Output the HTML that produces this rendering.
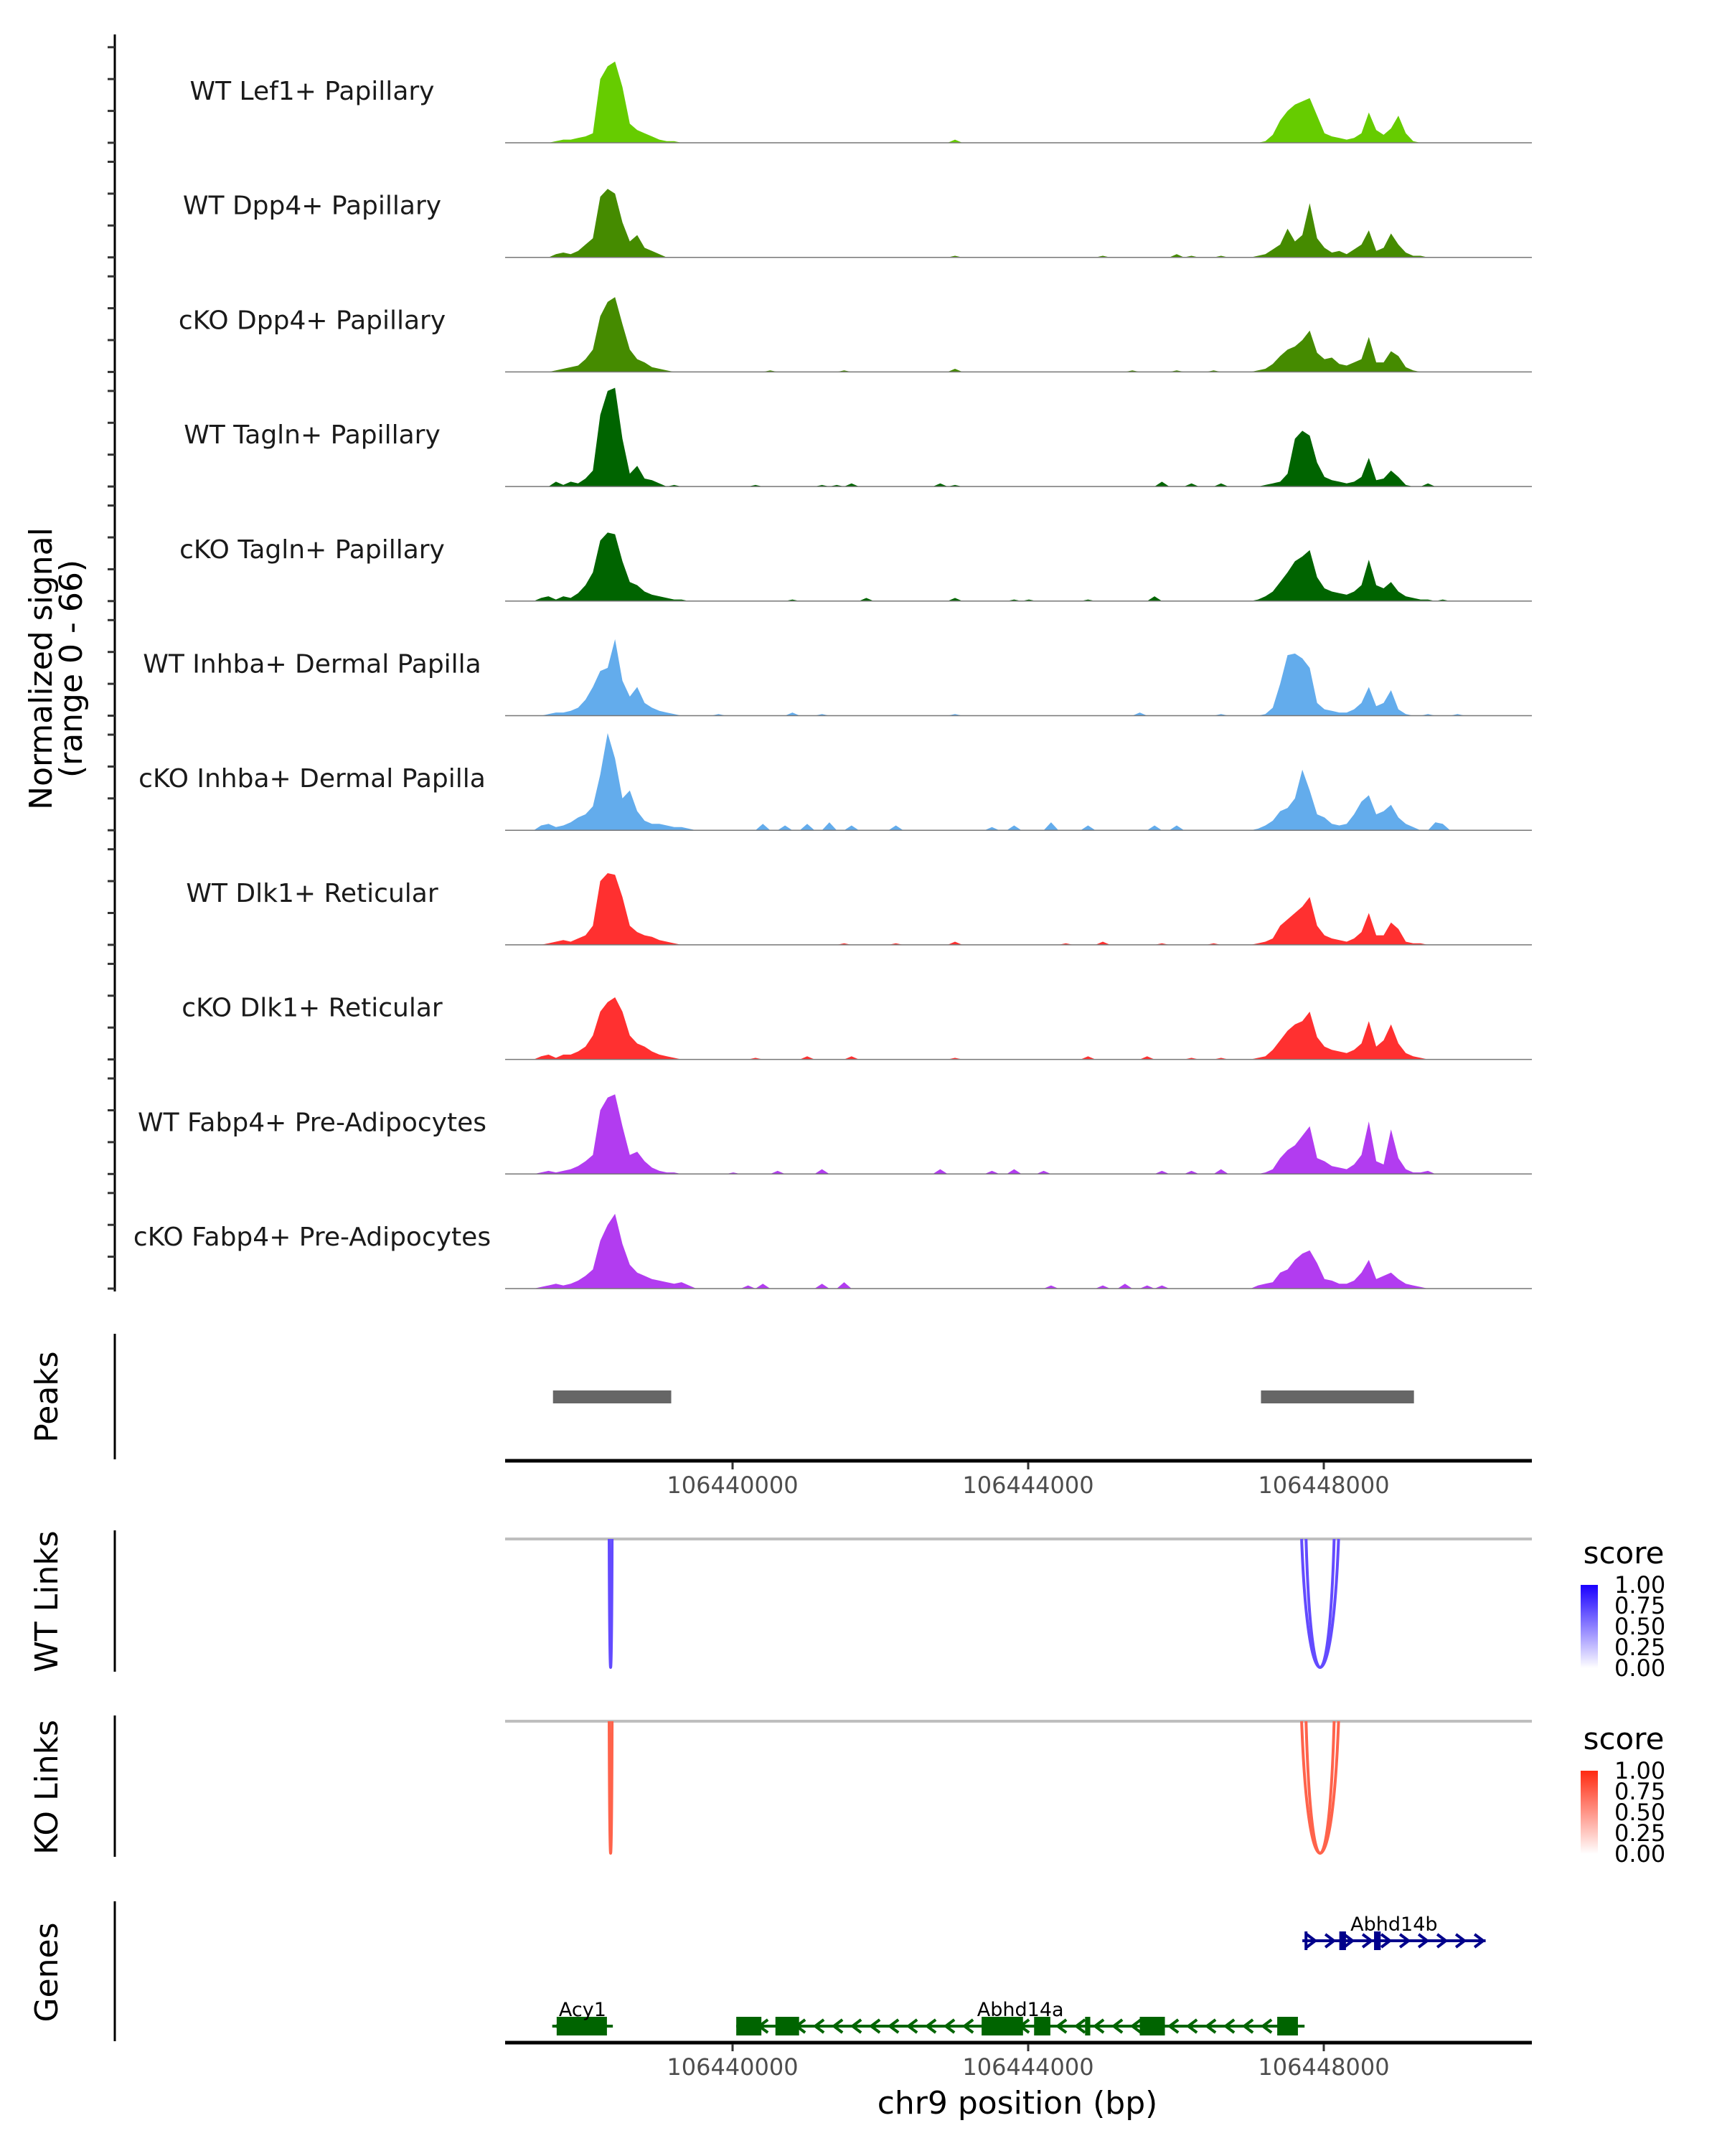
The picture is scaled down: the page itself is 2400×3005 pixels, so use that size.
<!DOCTYPE html>
<html><head><meta charset="utf-8"><style>
html,body{margin:0;padding:0;background:#fff;}
svg text{font-family:"DejaVu Sans","Liberation Sans",sans-serif;}
</style></head><body>
<svg id="chart" xmlns="http://www.w3.org/2000/svg" width="2400" height="3000" viewBox="0 0 2400 3000">
<rect width="2400" height="3000" fill="#fff"/>
</svg>
<script>
// ---- data ----
const regionStartBp = 106436922, regionEndBp = 106450816;
const xTicks = [106440000, 106444000, 106448000];
const binStart = 106436960, binSize = 100;
const trackNames = ["WT Lef1+ Papillary","WT Dpp4+ Papillary","cKO Dpp4+ Papillary","WT Tagln+ Papillary","cKO Tagln+ Papillary","WT Inhba+ Dermal Papilla","cKO Inhba+ Dermal Papilla","WT Dlk1+ Reticular","cKO Dlk1+ Reticular","WT Fabp4+ Pre-Adipocytes","cKO Fabp4+ Pre-Adipocytes"];
const trackColors = ["#66cc00","#458b00","#458b00","#006400","#006400","#63acec","#63acec","#ff3030","#ff3030","#b23cf0","#b23cf0"];
const regionAStartBin = 4;
const regionA = [
[0,0,1,2,2,3,4,6,40,48,51,35,12,8,6,4,2,1,1,0,0],
[0,0,2,3,2,4,8,12,38,43,40,22,10,14,6,4,2,0,0,0,0],
[0,0,1,2,3,4,8,14,35,44,47,30,14,8,6,3,2,1,0,0,0],
[0,0,3,1,3,2,5,10,45,60,62,30,8,13,5,4,2,0,1,0,0],
[2,3,1,3,2,5,10,18,38,43,42,25,12,10,6,4,3,2,1,1,0],
[0,1,2,2,3,5,10,18,28,30,48,22,12,18,8,5,3,2,1,0,0],
[3,4,2,3,5,8,10,15,35,61,45,20,25,12,6,4,4,3,2,2,1],
[0,1,2,3,2,4,6,12,40,45,44,30,12,8,6,5,3,2,1,0,0],
[2,3,1,3,3,5,8,15,30,36,39,30,15,10,8,5,3,2,1,0,0],
[1,2,1,2,3,5,8,12,40,48,50,30,12,14,8,4,2,1,1,0,0],
[1,2,3,2,3,5,8,12,30,40,47,28,15,10,8,6,5,4,3,4,2]];
const regionBStartBin = 100;
const regionB = [
[0,0,1,5,14,20,24,26,28,17,6,4,3,2,3,6,19,8,5,9,17,6,1,0,0,0],
[0,1,2,5,8,18,10,14,34,12,6,3,4,2,5,8,17,4,6,15,8,3,1,1,0,0],
[0,1,2,5,10,14,16,20,26,12,8,9,5,4,6,8,22,6,6,13,10,3,1,0,0,0],
[0,0,1,2,3,8,30,35,32,15,6,4,3,2,3,6,18,4,5,10,6,1,0,0,2,0],
[0,1,3,6,12,18,25,28,32,15,8,6,5,4,6,10,26,10,8,12,6,3,2,1,1,0],
[0,0,1,5,20,38,39,36,30,8,4,3,2,2,4,8,18,6,8,16,4,1,0,0,1,0],
[0,1,3,6,12,14,20,38,25,10,8,4,3,4,10,18,22,10,12,16,8,4,2,0,0,5],
[0,1,2,4,12,16,20,24,30,12,6,4,3,2,4,8,20,6,6,14,10,2,1,1,0,0],
[0,1,2,6,12,18,22,24,30,14,8,6,5,4,6,10,24,8,12,22,10,4,2,1,0,0],
[0,0,1,3,10,15,18,24,30,10,8,5,4,3,6,12,33,8,6,28,10,3,1,1,2,0],
[0,2,3,4,10,12,18,22,24,16,6,5,3,3,5,10,18,6,8,10,6,3,2,1,0,0]];
const noiseBins = [
[[60,2]],
[[60,1],[80,1],[90,2],[92,1],[96,1]],
[[35,1],[45,1],[60,2],[84,1],[90,1],[95,1]],
[[33,1],[42,1],[44,1],[46,2],[58,2],[60,1],[88,3],[92,2],[96,2]],
[[38,1],[48,2],[60,2],[68,1],[70,1],[78,1],[87,3],[126,1]],
[[28,1],[38,2],[42,1],[60,1],[85,2],[96,1],[128,1]],
[[34,4],[37,3],[40,4],[43,5],[46,3],[52,3],[65,2],[68,3],[73,5],[78,3],[87,3],[90,3],[126,4]],
[[45,1],[52,1],[60,2],[75,1],[80,2],[88,1],[95,1]],
[[33,1],[40,2],[46,2],[60,1],[78,2],[86,2],[92,1],[96,1]],
[[30,1],[36,2],[42,3],[58,3],[65,2],[68,3],[72,2],[88,2],[92,2],[96,3]],
[[32,2],[34,3],[42,3],[45,4],[73,2],[80,2],[83,3],[86,2],[88,2]]];
const yTickValues = [0,20,40,60];
const yMax = 66;
const peakStarts = [106437570, 106447150];
const peakEnds = [106439170, 106449220];
const wtLinkStarts = [106438330, 106447700, 106447760];
const wtLinkEnds = [106438370, 106448200, 106448140];
const wtLinkScores = [0.8, 0.8, 0.8];
const koLinkStarts = [106438330, 106447700, 106447760];
const koLinkEnds = [106438370, 106448200, 106448140];
const koLinkScores = [0.8, 0.8, 0.8];
const legendTicks = ["1.00","0.75","0.50","0.25","0.00"];
const geneNames = ["Acy1","Abhd14a","Abhd14b"];
const geneStarts = [106437560, 106440050, 106447710];
const geneEnds = [106438380, 106447740, 106450190];
const geneStrands = [-1, -1, 1];
const geneRows = [1, 1, 0];
const geneColors = ["#006400","#006400","#00008b"];
const geneExons = [
[[106437620,106438300]],
[[106440050,106440390],[106440580,106440900],[106443370,106443930],[106444080,106444300],[106444770,106444840],[106445510,106445850],[106447370,106447650]],
[[106447740,106447760],[106448210,106448300],[106448680,106448770]]];

// ---- layout ----
const X0 = 704, X1 = 2135;
const ppb = (1845-1021)/8000;
function xs(bp){ return 1021 + (bp - 106440000)*ppb; }
const base0 = 199, trackStep = 159.7, pxPerUnit = 2.22;
function ys(k, v){ return base0 + k*trackStep - v*pxPerUnit; }

const svg = document.getElementById('chart');
const NS = "http://www.w3.org/2000/svg";
function mk(tag, attrs, parent){
  const e = document.createElementNS(NS, tag);
  for (const k in attrs) e.setAttribute(k, attrs[k]);
  (parent||svg).appendChild(e);
  return e;
}

// left signal axis
let e = mk('line',{x1:160,y1:48,x2:160,y2:1800,stroke:'#000','stroke-width':3});


for (let k=0;k<trackNames.length;k++){
  yTickValues.forEach(v=>{
    const t = mk('line',{x1:150,x2:160,y1:ys(k,v),y2:ys(k,v),stroke:'#333','stroke-width':3});
    
    
  });
}
e = mk('text',{x:0,y:0,'font-size':44,'text-anchor':'middle',fill:'#000',transform:'translate(80,932) rotate(-90)'});


e.innerHTML = '<tspan x="0" dy="-8">Normalized signal</tspan><tspan x="0" dy="42">(range 0 - 66)</tspan>';

// tracks
for (let k=0;k<trackNames.length;k++){
  const vals = {};
  regionA[k].forEach((v,i)=>{ vals[regionAStartBin+i]=v; });
  regionB[k].forEach((v,i)=>{ vals[regionBStartBin+i]=v; });
  noiseBins[k].forEach(p=>{ vals[p[0]] = p[1]; });
  const nb = Math.floor((regionEndBp-binStart)/binSize);
  let d = 'M'+X0+','+ys(k,0);
  for (let i=0;i<=nb;i++){
    const bp = binStart + i*binSize + binSize/2;
    const x = Math.max(X0, Math.min(X1, xs(bp)));
    d += ' L'+x.toFixed(1)+','+ys(k, vals[i]||0).toFixed(1);
  }
  d += ' L'+X1+','+ys(k,0)+' Z';
  const p = mk('path',{d:d,fill:trackColors[k],stroke:'none'});
  
  
  const bl = mk('line',{x1:X0,x2:X1,y1:ys(k,0),y2:ys(k,0),stroke:'#777','stroke-width':1.5});
  
  
  const t = mk('text',{x:435,y:ys(k,0)-60,'font-size':36,'text-anchor':'middle',fill:'#1a1a1a'});
  
  
  t.textContent = trackNames[k];
}

// panel labels & side axes
function sideLabel(txt, cy, name){
  const t = mk('text',{x:0,y:0,'font-size':44,'text-anchor':'middle',fill:'#000',transform:'translate(80,'+cy+') rotate(-90)'});
  
  
  t.textContent = txt;
}
function sideAxis(y1,y2,name){
  const l = mk('line',{x1:160,x2:160,y1:y1,y2:y2,stroke:'#000','stroke-width':3});
  
  
}
sideLabel('Peaks',1947,'peaks-label'); sideAxis(1859,2034,'peaks-axis');
sideLabel('WT Links',2232,'wt-links-label'); sideAxis(2133,2330,'wt-links-axis');
sideLabel('KO Links',2491,'ko-links-label'); sideAxis(2391,2588,'ko-links-axis');
sideLabel('Genes',2749,'genes-label'); sideAxis(2650,2845,'genes-axis');

// peaks
for (let i=0;i<peakStarts.length;i++){
  const r = mk('rect',{x:xs(peakStarts[i]),y:1938,width:xs(peakEnds[i])-xs(peakStarts[i]),height:18,fill:'#666'});
  
  
}

// x axes
function xAxis(y, name){
  const l = mk('line',{x1:X0,x2:X1,y1:y,y2:y,stroke:'#000','stroke-width':5});
  
  
  xTicks.forEach(v=>{
    const t = mk('line',{x1:xs(v),x2:xs(v),y1:y+2,y2:y+12,stroke:'#333','stroke-width':3});
    
    
    const tl = mk('text',{x:xs(v),y:y+45,'font-size':32,'text-anchor':'middle',fill:'#4d4d4d'});
    
    
    tl.textContent = v;
  });
}
xAxis(2036,'peaks-x-axis');
xAxis(2847,'genes-x-axis');
e = mk('text',{x:1418,y:2946,'font-size':44,'text-anchor':'middle',fill:'#000'});


e.textContent = 'chr9 position (bp)';

// links
function lerpColor(c0,c1,s){
  const r = Math.round(c0[0]+(c1[0]-c0[0])*s), g = Math.round(c0[1]+(c1[1]-c0[1])*s), b = Math.round(c0[2]+(c1[2]-c0[2])*s);
  return 'rgb('+r+','+g+','+b+')';
}
function linkPanel(top, bottom, starts, ends, scores, hi, name){
  const g = mk('line',{x1:X0,x2:X1,y1:top,y2:top,stroke:'#bebebe','stroke-width':4});
  
  
  const depth = bottom-top;
  for (let i=0;i<starts.length;i++){
    const a = xs(starts[i]), b = xs(ends[i]);
    const cy = top + depth/0.75;
    const m = (a+b)/2;
    const p = mk('path',{d:'M'+a+','+top+' C'+(a+(m-a)*0.35)+','+cy+' '+(b-(b-m)*0.35)+','+cy+' '+b+','+top,fill:'none',stroke:lerpColor([255,255,255],hi,scores[i]),'stroke-width':4});
    
    
  }
}
linkPanel(2145,2324,wtLinkStarts,wtLinkEnds,wtLinkScores,[60,30,255],'wt-link');
linkPanel(2399,2583,koLinkStarts,koLinkEnds,koLinkScores,[255,60,30],'ko-link');

// legends
const defs = mk('defs',{});
defs.innerHTML = '<linearGradient id="gb" x1="0" y1="1" x2="0" y2="0"><stop offset="0" stop-color="#fff"/><stop offset="1" stop-color="#1a00ff"/></linearGradient><linearGradient id="gr" x1="0" y1="1" x2="0" y2="0"><stop offset="0" stop-color="#fff"/><stop offset="1" stop-color="#ff2a10"/></linearGradient>';
function legend(top, grad, name){
  const t = mk('text',{x:2263,y:top-30,'font-size':42,'text-anchor':'middle',fill:'#000'});
  
  
  t.textContent = 'score';
  const r = mk('rect',{x:2203,y:top,width:24,height:116,fill:'url(#'+grad+')'});
  
  
  legendTicks.forEach((lab,i)=>{
    const y = top + i*29;
    const tl = mk('text',{x:2250,y:y+11,'font-size':32,fill:'#000'});
    
    
    tl.textContent = lab;
  });
}
legend(2209,'gb','wt-legend');
legend(2468,'gr','ko-legend');

// genes
const rowY = [2705, 2824];
for (let gi=0; gi<geneNames.length; gi++){
  const y = rowY[geneRows[gi]], c = geneColors[gi];
  const a = xs(geneStarts[gi]), b = xs(geneEnds[gi]);
  const g = mk('g',{});
  
  
  mk('line',{x1:a,x2:b,y1:y,y2:y,stroke:c,'stroke-width':4},g);
  const s = geneStrands[gi];
  for (let x=a+12; x<b-4; x+=26){
    mk('path',{d:'M'+(x-6*s)+','+(y-9)+' L'+(x+6*s)+','+y+' L'+(x-6*s)+','+(y+9),fill:'none',stroke:c,'stroke-width':4},g);
  }
  geneExons[gi].forEach(ex=>{
    const ea = xs(ex[0]), eb = xs(ex[1]);
    mk('rect',{x:ea,y:y-13,width:Math.max(4,eb-ea),height:26,fill:c},g);
  });
  const lab = mk('text',{x:(a+b)/2,y:y-14,'font-size':27,'text-anchor':'middle',fill:'#000'},g);
  lab.textContent = geneNames[gi];
}
</script>
</body></html>
